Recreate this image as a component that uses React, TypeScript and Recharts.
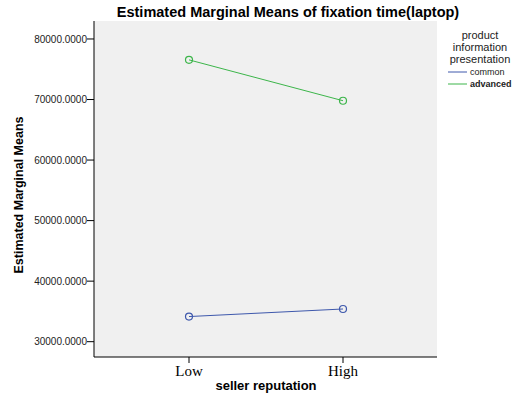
import React from 'react';
import { LineChart, Line, XAxis, YAxis, CartesianGrid, Label } from 'recharts';

const categories = ['Low', 'High'];
const commonValues = [34150, 35400];
const advancedValues = [76550, 69800];
const yTicks = [30000, 40000, 50000, 60000, 70000, 80000];
const seriesNames = ['common', 'advanced'];
const seriesColors = ['#3E58AC', '#3CB54A'];
const legendTitle = ['product', 'information', 'presentation'];
const chartTitle = 'Estimated Marginal Means of fixation time(laptop)';
const xTitle = 'seller reputation';
const yTitle = 'Estimated Marginal Means';

const data = categories.map((c, i) => ({
  name: c,
  common: commonValues[i],
  advanced: advancedValues[i],
}));

const SANS = 'Liberation Sans, Arial, sans-serif';

export default function App() {
  return (
    <div style={{ position: 'absolute', left: 0, top: 0, width: 519, height: 403, background: '#fff' }}>
      <LineChart width={519} height={403} data={data} margin={{ top: 21, right: 82, bottom: 0, left: 0 }}>
        <CartesianGrid fill="#f0f0f0" horizontal={false} vertical={false} />
        <XAxis
          xAxisId="top"
          dataKey="name"
          orientation="top"
          height={0}
          scale="point"
          tick={false}
          tickLine={false}
          axisLine={{ stroke: '#000' }}
        />
        <XAxis
          dataKey="name"
          scale="point"
          padding={{ left: 95, right: 94 }}
          height={46}
          interval={0}
          tickSize={6}
          tickMargin={2}
          tickLine={{ stroke: '#000' }}
          axisLine={{ stroke: '#000' }}
          tick={{ fill: '#000', fontSize: 15, fontFamily: 'Liberation Serif, serif' }}
        >
          <Label
            content={() => (
              <text x={266} y={390} textAnchor="middle" fontFamily={SANS} fontWeight="bold" fontSize={13} fill="#000">
                {xTitle}
              </text>
            )}
          />
        </XAxis>
        <YAxis
          domain={[27470, 82970]}
          ticks={yTicks}
          width={94}
          tickSize={7}
          tickMargin={0}
          tickFormatter={(v: number) => v.toFixed(4)}
          tickLine={{ stroke: '#000' }}
          axisLine={{ stroke: '#000' }}
          tick={{ fill: '#222', fontSize: 10, fontFamily: SANS }}
        >
          <Label
            content={() => (
              <text
                x={23}
                y={195}
                transform="rotate(-90, 23, 195)"
                textAnchor="middle"
                fontFamily={SANS}
                fontWeight="bold"
                fontSize={12.5}
                fill="#000"
              >
                {yTitle}
              </text>
            )}
          />
        </YAxis>
        <YAxis
          yAxisId="right"
          orientation="right"
          width={0}
          domain={[27470, 82970]}
          tick={false}
          tickLine={false}
          axisLine={{ stroke: '#000' }}
        />
        {seriesNames.map((s, i) => (
          <Line
            key={s}
            dataKey={s}
            type="linear"
            stroke={seriesColors[i]}
            strokeWidth={1}
            dot={{ r: 3.5, fill: 'none', stroke: seriesColors[i], strokeWidth: 1.2 }}
            activeDot={false}
            isAnimationActive={false}
          />
        ))}
      </LineChart>
      <svg width={519} height={403} style={{ position: 'absolute', left: 0, top: 0, pointerEvents: 'none' }}>
        <text x={288} y={17} textAnchor="middle" fontFamily={SANS} fontWeight="bold" fontSize={14.5} fill="#000">
          {chartTitle}
        </text>
        {legendTitle.map((t, i) => (
          <text key={t} x={480} y={39 + i * 12} textAnchor="middle" fontFamily={SANS} fontSize={11} fill="#222">
            {t}
          </text>
        ))}
        {seriesNames.map((s, i) => (
          <g key={s}>
            <line x1={448} x2={467} y1={72 + i * 12} y2={72 + i * 12} stroke={seriesColors[i]} strokeWidth={1} />
            <text
              x={470}
              y={75 + i * 12}
              fontFamily={SANS}
              fontSize={9}
              fontWeight={i === 1 ? 'bold' : 'normal'}
              fill="#222"
            >
              {s}
            </text>
          </g>
        ))}
      </svg>
    </div>
  );
}
